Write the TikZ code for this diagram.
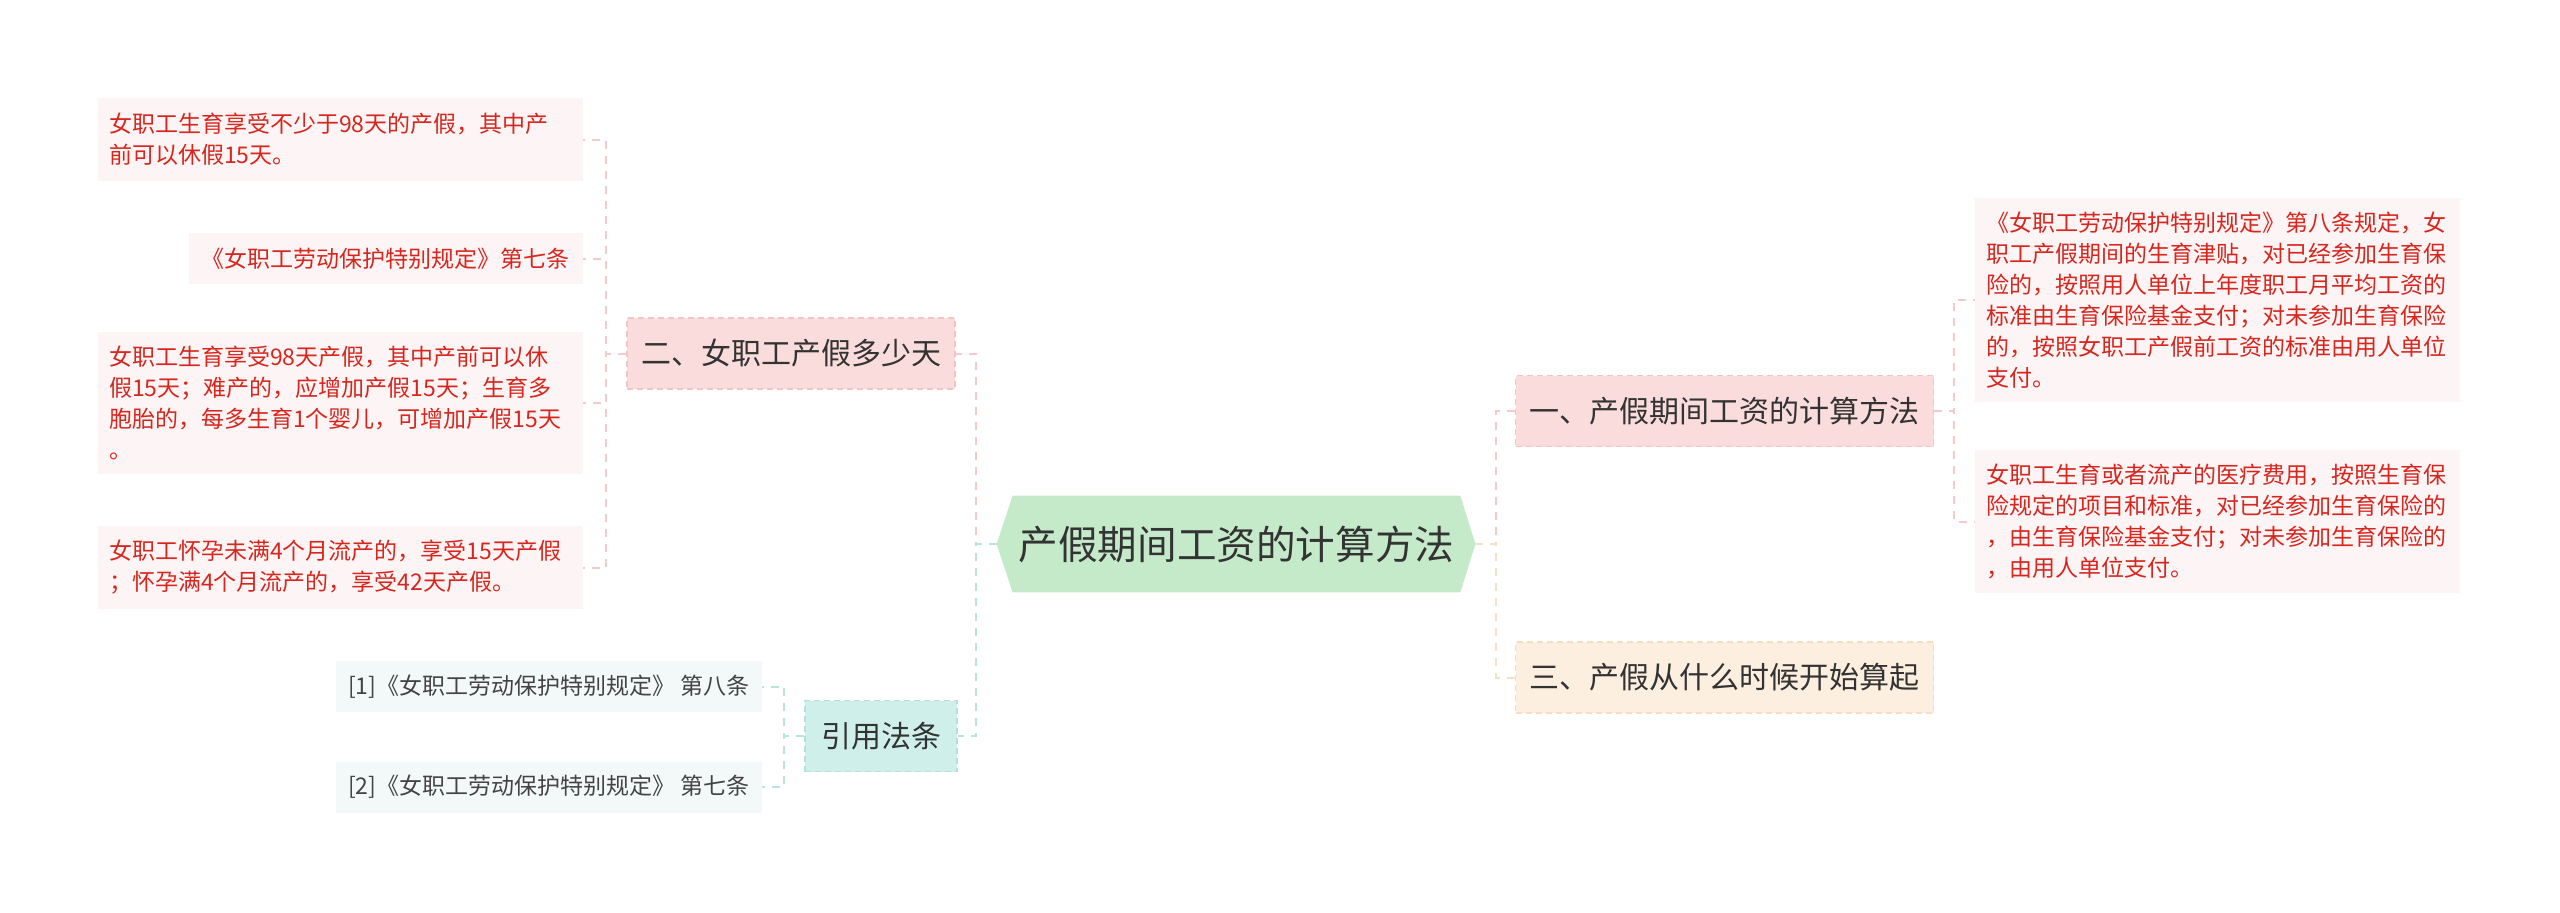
\documentclass[tikz,border=0pt]{standalone}
\usepackage{fontspec}
\setmainfont{Noto Sans CJK SC}
\usetikzlibrary{backgrounds}
\definecolor{leaffill}{HTML}{FDF5F5}
\definecolor{leaftext}{HTML}{D7261E}
\definecolor{pinkfill}{HTML}{FADCDC}
\definecolor{pinkborder}{HTML}{F2C4C4}
\definecolor{peachfill}{HTML}{FDEFE0}
\definecolor{peachborder}{HTML}{F8DDC4}
\definecolor{tealfill}{HTML}{CFF0EA}
\definecolor{tealborder}{HTML}{B2E2D9}
\definecolor{greenfill}{HTML}{C5EACA}
\definecolor{reffill}{HTML}{F3F9F9}
\definecolor{reftext}{HTML}{444444}
\definecolor{pinkline}{HTML}{F4CACA}
\definecolor{tealline}{HTML}{B8E6DD}
\definecolor{peachline}{HTML}{FADFC8}
\definecolor{maintext}{HTML}{333333}
\begin{document}
\begin{tikzpicture}[x=0.5pt,y=-0.5pt,
  leafbox/.style={fill=leaffill, text=leaftext, font=\fontsize{11.5pt}{15.5pt}\selectfont,
    inner xsep=5.75pt, inner ysep=0pt, align=left, text width=231pt},
  leafshort/.style={fill=leaffill, text=leaftext, font=\fontsize{11.5pt}{15.5pt}\selectfont,
    inner xsep=6.5pt, inner ysep=0pt, minimum height=25.5pt},
  refbox/.style={fill=reffill, text=reftext, font=\fontsize{11.5pt}{15.5pt}\selectfont,
    inner xsep=6pt, inner ysep=0pt, minimum height=25.5pt},
  mainbox/.style={font=\fontsize{15pt}{18pt}\selectfont, text=maintext, inner xsep=7pt,
    inner ysep=0pt, minimum height=35.5pt, dashed, line width=0.6pt, dash pattern=on 3pt off 2pt},
  pinkbox/.style={mainbox, fill=pinkfill, draw=pinkborder},
  peachbox/.style={mainbox, fill=peachfill, draw=peachborder},
  tealbox/.style={mainbox, fill=tealfill, draw=tealborder, inner xsep=8pt},
  centerbox/.style={minimum width=223.5pt, minimum height=48pt, inner sep=0pt,
    font=\fontsize{19.8pt}{24pt}\selectfont, text=maintext},
  conn/.style={line width=1pt, dash pattern=on 4pt off 3.5pt},
  pinkconn/.style={conn, draw=pinkline},
  tealconn/.style={conn, draw=tealline},
  peachconn/.style={conn, draw=peachline}
]
\useasboundingbox (0,0) rectangle (2560,912);

% center
\node[centerbox] (c) at (1236.5,544) {产假期间工资的计算方法};
\coordinate (cL) at ([xshift=-8pt]c.west);
\coordinate (cR) at ([xshift=7.5pt]c.east);
\begin{scope}[on background layer]
\fill[greenfill] (cL) -- (c.north west) -- (c.north east) -- (cR) -- (c.south east) -- (c.south west) -- cycle;
\end{scope}

% main branches
\node[pinkbox] (n2) at (791,353.5) {二、女职工产假多少天};
\node[tealbox] (nr) at (881,736) {引用法条};
\node[pinkbox] (n1) at (1724.5,411) {一、产假期间工资的计算方法};
\node[peachbox] (n3) at (1724.5,677.5) {三、产假从什么时候开始算起};

% left leaves
\node[leafbox, minimum height=41.5pt, anchor=east] (l1) at (583,139.5)
  {女职工生育享受不少于98天的产假，其中产\\前可以休假15天。};
\node[leafshort, anchor=east] (l2) at (583,258.5) {《女职工劳动保护特别规定》第七条};
\node[leafbox, minimum height=71pt, anchor=east] (l3) at (583,403)
  {女职工生育享受98天产假，其中产前可以休\\假15天；难产的，应增加产假15天；生育多\\胞胎的，每多生育1个婴儿，可增加产假15天\\。};
\node[leafbox, minimum height=41.5pt, anchor=east] (l4) at (583,567.5)
  {女职工怀孕未满4个月流产的，享受15天产假\\；怀孕满4个月流产的，享受42天产假。};

% ref leaves
\node[refbox, anchor=east] (ref1) at (762,686.5) {[1]《女职工劳动保护特别规定》 第八条};
\node[refbox, anchor=east] (ref2) at (762,787) {[2]《女职工劳动保护特别规定》 第七条};

% right leaves
\node[leafbox, minimum height=102pt, anchor=west] (r1) at (1975,300)
  {《女职工劳动保护特别规定》第八条规定，女\\职工产假期间的生育津贴，对已经参加生育保\\险的，按照用人单位上年度职工月平均工资的\\标准由生育保险基金支付；对未参加生育保险\\的，按照女职工产假前工资的标准由用人单位\\支付。};
\node[leafbox, minimum height=71.5pt, anchor=west] (r2) at (1975,521.5)
  {女职工生育或者流产的医疗费用，按照生育保\\险规定的项目和标准，对已经参加生育保险的\\，由生育保险基金支付；对未参加生育保险的\\，由用人单位支付。};

% connectors
\begin{scope}[on background layer]
\draw[pinkconn] (cL) -- ++(-21,0) |- (n2.east);
\draw[tealconn] (cL) -- ++(-21,0) |- (nr.east);
\draw[pinkconn] (cR) -- ++(21,0) |- (n1.west);
\draw[peachconn] (cR) -- ++(21,0) |- (n3.west);
\foreach \t in {l1,l2,l3,l4}
  \draw[pinkconn] (n2.west) -- ++(-20,0) |- (\t.east);
\foreach \t in {ref1,ref2}
  \draw[tealconn] (nr.west) -- ++(-20,0) |- (\t.east);
\foreach \t in {r1,r2}
  \draw[pinkconn] (n1.east) -- ++(20,0) |- (\t.west);
\end{scope}
\end{tikzpicture}
\end{document}
